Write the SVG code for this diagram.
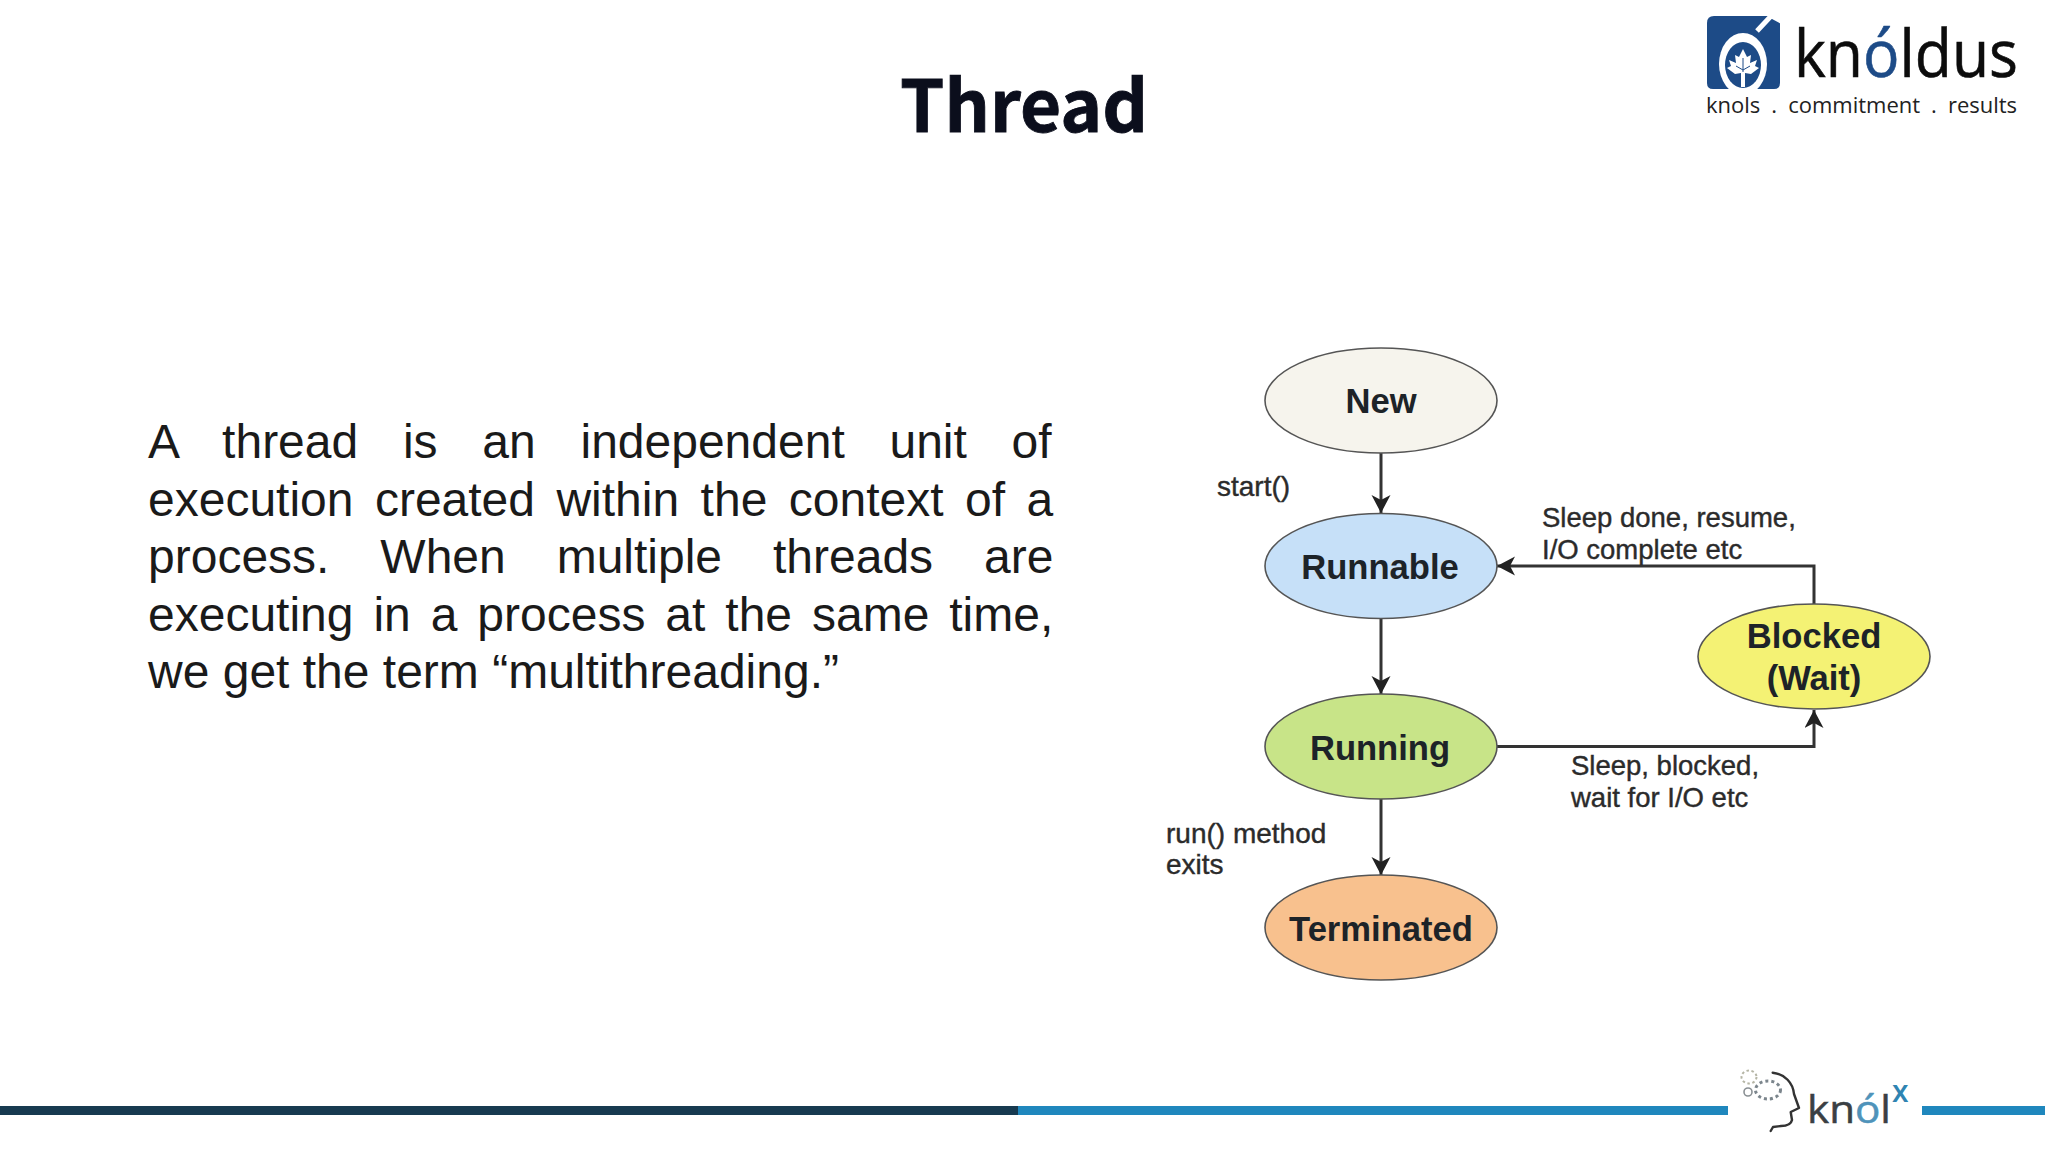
<svg xmlns="http://www.w3.org/2000/svg" width="2048" height="1152" viewBox="0 0 2048 1152">
<style>
.body{font-family:"Liberation Sans",Arial,sans-serif;font-size:48px;fill:#1a1a1a}
.node{stroke:#555;stroke-width:1.6}
.nt{font-family:"Liberation Sans",Arial,sans-serif;font-size:34.6px;font-weight:bold;text-anchor:middle;fill:#1d2328}
.lb{font-family:"Liberation Sans",Arial,sans-serif;font-size:27.5px;fill:#2b2b2b;stroke:#2b2b2b;stroke-width:.4}
.edge{fill:none;stroke:#333;stroke-width:3}
.logo{font-family:"Open Sans","Noto Sans",sans-serif}
</style>
<defs>
<marker id="arrow" markerUnits="userSpaceOnUse" markerWidth="20" markerHeight="20" refX="18" refY="9.5" orient="auto">
<path d="M0,0 L18,9.5 L0,19 L5,9.5 Z" fill="#222"/>
</marker>
<clipPath id="sq"><rect x="1707" y="16" width="73" height="73"/></clipPath>
</defs>
<rect width="2048" height="1152" fill="#fff"/>
<text id="title" x="1024" y="132" text-anchor="middle" font-family="'Noto Sans CJK SC',sans-serif" font-weight="bold" font-size="71" fill="#0b0e1c" stroke="#0b0e1c" stroke-width=".8">Thread</text>
<g id="paragraph" class="body">
<text x="148" y="458" word-spacing="31.4">A thread is an independent unit of</text>
<text x="148" y="516" word-spacing="8.1">execution created within the context of a</text>
<text x="148" y="573" word-spacing="37.6">process. When multiple threads are</text>
<text x="148" y="631" word-spacing="6.6">executing in a process at the same time,</text>
<text x="148" y="688">we get the term “multithreading.”</text>
</g>
<g id="connectors">
<path class="edge" marker-end="url(#arrow)" d="M1381,453 V513"/>
<path class="edge" marker-end="url(#arrow)" d="M1381,618 V694"/>
<path class="edge" marker-end="url(#arrow)" d="M1381,799 V875"/>
<path class="edge" marker-end="url(#arrow)" d="M1814,604 V566 H1497"/>
<path class="edge" marker-end="url(#arrow)" d="M1497,746.5 H1814 V710"/>
</g>
<g id="node-new"><ellipse class="node" cx="1381" cy="400.5" rx="116" ry="52.5" fill="#f6f4ed"/><text class="nt" x="1381" y="413">New</text></g>
<g id="node-runnable"><ellipse class="node" cx="1381" cy="566" rx="116" ry="52.5" fill="#c6e0f8"/><text class="nt" x="1380" y="579">Runnable</text></g>
<g id="node-running"><ellipse class="node" cx="1381" cy="746.5" rx="116" ry="52.5" fill="#c8e488"/><text class="nt" x="1380" y="760">Running</text></g>
<g id="node-terminated"><ellipse class="node" cx="1381" cy="927.5" rx="116" ry="52.5" fill="#f8c18e"/><text class="nt" x="1381" y="941">Terminated</text></g>
<g id="node-blocked"><ellipse class="node" cx="1814" cy="656.5" rx="116" ry="52.5" fill="#f4f274"/><text class="nt" x="1814" y="648">Blocked</text><text class="nt" x="1814" y="690">(Wait)</text></g>
<g id="labels">
<text class="lb" x="1217" y="496" style="font-size:28px">start()</text>
<text class="lb" x="1542" y="527">Sleep done, resume,</text>
<text class="lb" x="1542" y="559">I/O complete etc</text>
<text class="lb" x="1571" y="775">Sleep, blocked,</text>
<text class="lb" x="1571" y="807">wait for I/O etc</text>
<text class="lb" x="1166" y="843" style="font-size:28px">run() method</text>
<text class="lb" x="1166" y="874" style="font-size:28px">exits</text>
</g>
<g id="logo-knoldus">
<path d="M1714,16 H1780 V83 Q1780,89 1774,89 H1713 Q1707,89 1707,83 V23 Q1707,16 1714,16 Z" fill="#1d4b87"/>
<path d="M1770,15 L1781,15 L1781,21 Z M1757,31 L1772,15" fill="#fff" stroke="#fff" stroke-width="5"/>
<g clip-path="url(#sq)">
<ellipse cx="1743" cy="64" rx="24" ry="31" fill="#fff"/>
<ellipse cx="1743" cy="65" rx="18" ry="23" fill="#1d4b87"/>
</g>
<path d="M1743,49 L1747,57 L1751,55 L1750,63 L1757,60 L1755,66 L1759,68 L1751,74 L1745,73 V87 H1741 V73 L1735,74 L1727,68 L1731,66 L1729,60 L1736,63 L1735,55 L1739,57 Z" fill="#fff"/>
<path d="M1743,58 V72 M1743,70 L1736,66 M1743,70 L1750,66" fill="none" stroke="#1d4b87" stroke-width="1"/>
<text class="logo" x="1794" y="77" font-size="66" fill="#0c0c0c" stroke="#0c0c0c" stroke-width=".6" textLength="224" lengthAdjust="spacingAndGlyphs">kn<tspan fill="#1d4b87" stroke="#1d4b87">ó</tspan>ldus</text>
<text class="logo" x="1706" y="113" font-size="22" fill="#222" word-spacing="5.3">knols . commitment . results</text>
</g>
<g id="footer">
<rect x="0" y="1106" width="1018" height="9" fill="#173a50"/>
<rect x="1018" y="1106" width="710" height="9" fill="#1f87bd"/>
<rect x="1922" y="1106" width="123" height="9" fill="#1f87bd"/>
</g>
<g id="logo-knolx">
<path d="M1772.7,1072.7 C1785,1074 1793,1083 1794,1094 L1799,1108 L1790.7,1112 L1792,1120 C1791,1125 1786,1126 1781,1126 L1773,1127 L1770.7,1131" fill="none" stroke="#333" stroke-width="2.4" stroke-linecap="round" stroke-linejoin="round"/>
<ellipse cx="1749" cy="1077" rx="7.5" ry="6.5" fill="none" stroke="#b5b5a5" stroke-width="2" stroke-dasharray="2.5 2.5"/>
<ellipse cx="1768" cy="1090" rx="12.5" ry="9" fill="none" stroke="#7b858c" stroke-width="3" stroke-dasharray="3 3"/>
<circle cx="1748" cy="1092" r="4" fill="none" stroke="#8a9094" stroke-width="1.6"/>
<text class="logo" x="1807" y="1123" font-size="38" fill="#3a3f44" stroke="#3a3f44" stroke-width=".5" textLength="84" lengthAdjust="spacingAndGlyphs">kn<tspan fill="#4f93ba" stroke="#4f93ba">ó</tspan>l</text>
<text class="logo" x="1892" y="1102" font-size="30" fill="#2f84b2" font-weight="600">x</text>
</g>
</svg>
